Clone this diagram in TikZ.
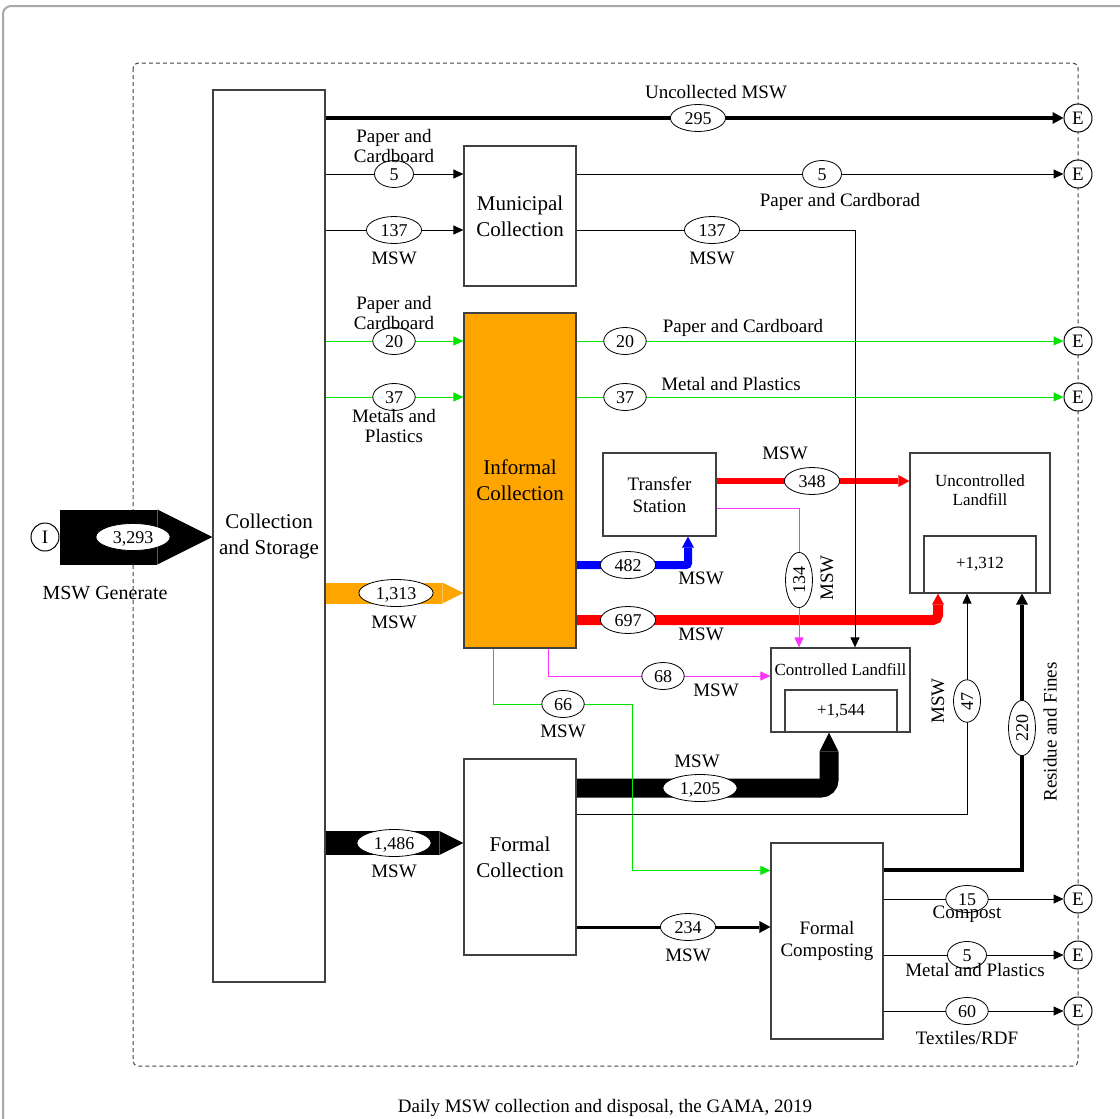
\documentclass[tikz,border=0pt]{standalone}
\usepackage{fontspec}
\setmainfont{Liberation Serif}
\usetikzlibrary{arrows.meta,shapes.geometric}
\definecolor{frame}{HTML}{A8A8A8}
\definecolor{edge}{HTML}{404040}
\definecolor{infor}{HTML}{FFA500}
\definecolor{pgreen}{HTML}{00E600}
\definecolor{pmag}{HTML}{FF33FF}
\definecolor{pred}{HTML}{FF0000}
\definecolor{pblue}{HTML}{0000FF}
\pgfdeclarelayer{bg}
\pgfsetlayers{bg,main}

\begin{document}
\begin{tikzpicture}[x=1pt,y=-1pt,
  box/.style={draw=edge,line width=1.2pt,fill=white,inner sep=0pt,align=center,font=\fontsize{21}{26}\selectfont},
  val/.style={ellipse,draw,line width=.8pt,fill=white,inner xsep=6pt,inner ysep=0pt,minimum height=27pt,minimum width=39pt,text height=12pt,text depth=0pt,font=\fontsize{18}{19}\selectfont},
  lab/.style={inner sep=0pt,align=center,font=\fontsize{19}{20}\selectfont},
  exitc/.style={circle,draw,line width=1pt,fill=white,minimum size=28pt,inner sep=0pt,font=\fontsize{19}{20}\selectfont},
  flow/.style={line width=1pt,-{Triangle[length=10pt,width=9pt]}},
  bold/.style={line width=#1,-{Triangle[length=11pt,width=12pt,line width=0pt]}},
  fat/.style={line width=#1,-{Triangle[length=#1,width=#1,line width=0pt]}}]
\useasboundingbox (0,0) rectangle (1120,1119);

% boxes
\node[box,minimum width=112pt,minimum height=892pt] (cs) at (269,536) {Collection\\and Storage};
\node[box,minimum width=112pt,minimum height=140pt] (mun) at (520,216) {Municipal\\Collection};
\node[box,fill=infor,minimum width=112pt,minimum height=335pt] (infc) at (520,480.5) {Informal\\Collection};
\node[box,minimum width=113pt,minimum height=83pt,font=\fontsize{19}{22}\selectfont] (tst) at (659.5,494.5) {Transfer\\Station};
\node[box,minimum width=140pt,minimum height=140pt] (uland) at (980,523) {};
\node[lab,font=\fontsize{17}{19}\selectfont] (ulandt) at (980,490) {Uncontrolled\\Landfill};
\node[box,minimum width=112pt,minimum height=57pt,font=\fontsize{17}{18}\selectfont] (ulandin) at (980,564.5) {+1,312};
\node[box,minimum width=139pt,minimum height=84pt] (cland) at (840.5,690) {};
\node[lab,font=\fontsize{17}{18}\selectfont] (clandt) at (840.5,670) {Controlled Landfill};
\node[box,minimum width=112pt,minimum height=42pt,font=\fontsize{17}{18}\selectfont] (clandin) at (841,711) {+1,544};
\node[box,minimum width=112pt,minimum height=196pt] (fcol) at (520,857) {Formal\\Collection};
\node[box,minimum width=112pt,minimum height=196pt,font=\fontsize{19}{22}\selectfont] (fcomp) at (827,941) {Formal\\Composting};

% source and sinks
\node[exitc] (Iin) at (45,537) {I};
\node[exitc] (e1) at (1078,118) {E};
\node[exitc] (e2) at (1078,174) {E};
\node[exitc] (e3) at (1078,341) {E};
\node[exitc] (e4) at (1078,397) {E};
\node[exitc] (e5) at (1078,899) {E};
\node[exitc] (e6) at (1078,955) {E};
\node[exitc] (e7) at (1078,1011) {E};

% flow values
\node[val] (v3293) at (133,537) {3,293};
\node[val] (v295) at (698,118) {295};
\node[val] (v5a) at (394,174) {5};
\node[val] (v137a) at (394,230) {137};
\node[val] (v5b) at (822,174) {5};
\node[val] (v137b) at (712,230) {137};
\node[val] (v20a) at (394,341) {20};
\node[val] (v37a) at (394,397) {37};
\node[val] (v20b) at (625,341) {20};
\node[val] (v37b) at (625,397) {37};
\node[val] (v1313) at (396,593) {1,313};
\node[val] (v482) at (628,565) {482};
\node[val] (v348) at (812,481) {348};
\node[val,rotate=90] (v134) at (799,580) {134};
\node[val] (v697) at (628,620) {697};
\node[val] (v68) at (663,676) {68};
\node[val] (v66) at (563,704) {66};
\node[val] (v1205) at (700,788) {1,205};
\node[val,rotate=90] (v47) at (967,701) {47};
\node[val,rotate=90] (v220) at (1022,728) {220};
\node[val] (v1486) at (394,843) {1,486};
\node[val] (v234) at (688,927) {234};
\node[val] (v15) at (967,899) {15};
\node[val] (v5c) at (967,955) {5};
\node[val] (v60) at (967,1011) {60};

% flow labels
\node[lab,font=\fontsize{20}{22}\selectfont] (lgen) at (105,593) {MSW Generate};
\node[lab] (lunc) at (716,92) {Uncollected MSW};
\node[lab] (lpc1) at (394,146) {Paper and\\Cardboard};
\node[lab] (lmsw1) at (394,258) {MSW};
\node[lab] (lpc2) at (840,202) {Paper and Cardborad};
\node[lab] (lmsw2) at (712,258) {MSW};
\node[lab] (lpc3) at (394,313) {Paper and\\Cardboard};
\node[lab] (lmp1) at (394,426) {Metals and\\Plastics};
\node[lab] (lpc4) at (743,328) {Paper and Cardboard};
\node[lab] (lmp2) at (731,384) {Metal and Plastics};
\node[lab] (lmsw3) at (394,622) {MSW};
\node[lab] (lmsw4) at (785,453) {MSW};
\node[lab] (lmsw5) at (701,578) {MSW};
\node[lab,rotate=90] (lmsw6) at (827,578) {MSW};
\node[lab] (lmsw7) at (701,634) {MSW};
\node[lab] (lmsw8) at (716,690) {MSW};
\node[lab] (lmsw9) at (563,731) {MSW};
\node[lab] (lmsw10) at (697,761) {MSW};
\node[lab,rotate=90] (lmsw11) at (938,701) {MSW};
\node[lab,rotate=90] (lres) at (1050,732) {Residue and Fines};
\node[lab] (lmsw12) at (394,871) {MSW};
\node[lab] (lmsw13) at (688,955) {MSW};
\node[lab] (lcomp) at (967,914) {Compost};
\node[lab] (lmp3) at (975,970) {Metal and Plastics};
\node[lab] (ltex) at (967,1038) {Textiles/RDF};
\node[lab] (cap) at (605,1108) {Daily MSW collection and disposal, the GAMA, 2019};

\begin{pgfonlayer}{bg}
\draw[frame,line width=2pt,rounded corners=8pt] (3,1119) -- (3,6) -- (1120,6);
\draw[edge,line width=1pt,rounded corners=5pt,dash pattern=on 4pt off 3pt] (133,63) rectangle (1078,1066);
% wide flows
\draw[fat=55pt] (Iin.east) -- (cs.west |- Iin);
\draw[fat=21pt,infor] (cs.east |- v1313) -- (infc.west |- v1313);
\draw[fat=24pt] (cs.east |- v1486) -- (fcol.west |- v1486);
\draw[fat=19pt,rounded corners=8pt] (fcol.east |- v1205) -| ([xshift=-11.5pt]cland.south);
\draw[bold=10pt,pred,rounded corners=5pt] (infc.east |- v697) -| ([xshift=-42pt]uland.south);
\draw[bold=6pt,pred] (tst.east |- v348) -- (uland.west |- v348);
\draw[bold=8pt,pblue,rounded corners=2pt] (infc.east |- v482) -| ([xshift=28.5pt]tst.south);
\draw[bold=4.5pt] (cs.east |- e1) -- (e1);
\draw[bold=4pt] ([yshift=-28pt]fcomp.north east) -| ([xshift=42pt]uland.south);
\draw[bold=3pt] (fcol.east |- v234) -- (fcomp.west |- v234);
% thin flows
\draw[flow] (cs.east |- v5a) -- (mun.west |- v5a);
\draw[flow] (cs.east |- v137a) -- (mun.west |- v137a);
\draw[flow] (mun.east |- e2) -- (e2);
\draw[flow] (mun.east |- v137b) -| ([xshift=14.5pt]cland.north);
\draw[flow,pgreen] (cs.east |- v20a) -- (infc.west |- v20a);
\draw[flow,pgreen] (cs.east |- v37a) -- (infc.west |- v37a);
\draw[flow,pgreen] (infc.east |- e3) -- (e3);
\draw[flow,pgreen] (infc.east |- e4) -- (e4);
\draw[flow,pmag] ([yshift=28pt]tst.south east) -| (cland.north -| v134);
\draw[flow,pmag] ([xshift=28pt]infc.south) |- (cland.west |- v68);
\draw[flow,pgreen] ([xshift=-27pt]infc.south) |- ([xshift=69pt]v66.center) |- ([yshift=-28pt]fcomp.north west);
\draw[flow] ([yshift=-56pt]fcol.north east) -| ([xshift=-13pt]uland.south);
\draw[flow] (fcomp.east |- e5) -- (e5);
\draw[flow] (fcomp.east |- e6) -- (e6);
\draw[flow] (fcomp.east |- e7) -- (e7);
\end{pgfonlayer}
\end{tikzpicture}
\end{document}
